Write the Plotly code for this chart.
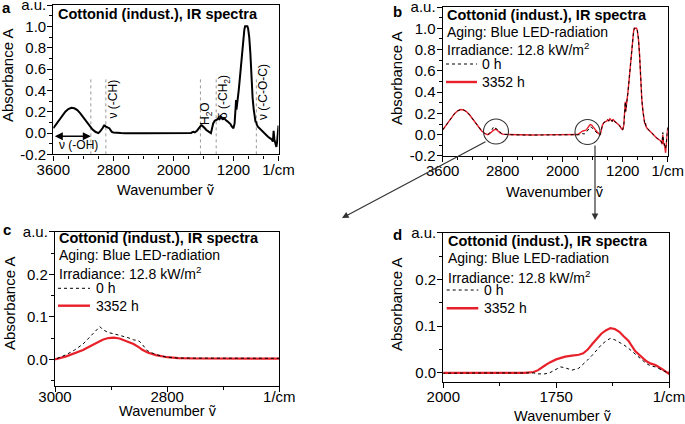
import plotly.graph_objects as go

W, H = 685, 424

# ---------------- data ----------------
wn_oh = [3600, 3560, 3520, 3480, 3440, 3400, 3360, 3320, 3280, 3240, 3200, 3160, 3120, 3080, 3040]
a0_oh = [0.045, 0.085, 0.12, 0.16, 0.2, 0.225, 0.236, 0.232, 0.215, 0.185, 0.15, 0.11, 0.07, 0.035, 0.012]
a1_oh = [0.045, 0.085, 0.12, 0.16, 0.2, 0.225, 0.236, 0.232, 0.215, 0.185, 0.15, 0.11, 0.07, 0.035, 0.012]

wn_ch = [3000, 2980, 2965, 2950, 2940, 2930, 2920, 2915, 2905, 2895, 2885, 2870, 2860, 2850, 2845,
         2835, 2820, 2800, 2780, 2750, 2700, 2650, 2600]
a0_ch = [0.0, 0.011, 0.022, 0.036, 0.05, 0.063, 0.077, 0.07, 0.063, 0.06, 0.057, 0.051, 0.046, 0.043, 0.036,
         0.02, 0.011, 0.005, 0.003, 0.002, 0.0, -0.001, -0.003]
a1_ch = [0.0, 0.007, 0.014, 0.022, 0.029, 0.036, 0.043, 0.046, 0.05, 0.051, 0.049, 0.042, 0.036, 0.028, 0.023,
         0.016, 0.01, 0.005, 0.003, 0.002, 0.0, -0.001, -0.003]

wn_flat = [2500, 2400, 2300, 2200, 2100]
a0_flat = [-0.003, -0.003, -0.002, -0.002, -0.001]
a1_flat = [-0.003, -0.003, -0.002, -0.002, -0.001]

wn_h2o = [2000, 1900, 1820, 1800, 1790, 1775, 1765, 1750, 1740, 1730, 1715, 1700, 1690, 1680, 1670,
          1660, 1650, 1640, 1630, 1620, 1610, 1600, 1590, 1575, 1565, 1550, 1540, 1530, 1515, 1500]
a0_h2o = [0.0, 0.0, 0.0, 0.0, -0.002, -0.002, 0.0, 0.008, 0.013, 0.011, 0.006, 0.01, 0.018, 0.028, 0.038,
          0.05, 0.06, 0.068, 0.074, 0.071, 0.066, 0.06, 0.053, 0.04, 0.031, 0.02, 0.015, 0.013, 0.006, -0.001]
a1_h2o = [0.0, 0.0, 0.0, 0.002, 0.006, 0.016, 0.022, 0.029, 0.032, 0.035, 0.037, 0.039, 0.042, 0.05, 0.062,
          0.074, 0.084, 0.091, 0.096, 0.094, 0.088, 0.078, 0.069, 0.047, 0.038, 0.025, 0.02, 0.017, 0.008, -0.002]

wn_fp = [1490, 1470, 1450, 1430, 1410, 1400, 1385, 1370, 1355, 1340, 1330, 1315, 1300, 1280, 1260,
         1240, 1225, 1210, 1200, 1185, 1175, 1165, 1160, 1150, 1130, 1110, 1090, 1070, 1055, 1045,
         1030, 1015, 1005, 990, 975, 960, 945, 930, 915, 905, 897, 890, 875, 855, 830,
         800, 770, 740, 710, 690, 675, 665, 655, 640, 628, 618, 610, 600]
a0_fp = [0.03, 0.09, 0.115, 0.12, 0.13, 0.14, 0.13, 0.15, 0.135, 0.125, 0.145, 0.13, 0.12, 0.11, 0.1,
         0.084, 0.065, 0.05, 0.045, 0.09, 0.17, 0.31, 0.22, 0.27, 0.40, 0.55, 0.72, 0.87, 0.97, 1.0,
         1.0, 1.0, 0.98, 0.9, 0.75, 0.46, 0.33, 0.22, 0.14, 0.1, 0.11, 0.08, 0.06, 0.045, 0.03,
         0.0, -0.02, -0.035, -0.05, -0.06, -0.08, 0.02, -0.06, -0.09, -0.13, -0.08, 0.0, 0.07]
a1_fp = [0.03, 0.09, 0.115, 0.12, 0.13, 0.14, 0.13, 0.15, 0.135, 0.125, 0.145, 0.13, 0.12, 0.11, 0.1,
         0.084, 0.065, 0.05, 0.045, 0.09, 0.17, 0.31, 0.22, 0.27, 0.40, 0.55, 0.72, 0.87, 0.97, 1.0,
         1.0, 1.0, 0.98, 0.9, 0.75, 0.46, 0.33, 0.22, 0.14, 0.1, 0.11, 0.08, 0.06, 0.045, 0.03,
         0.0, -0.02, -0.035, -0.05, -0.06, -0.09, 0.0, -0.08, -0.11, -0.17, -0.1, -0.02, 0.06]

wavenumber = wn_oh + wn_ch + wn_flat + wn_h2o + wn_fp
absorb_0h = a0_oh + a0_ch + a0_flat + a0_h2o + a0_fp
absorb_3352h = a1_oh + a1_ch + a1_flat + a1_h2o + a1_fp

band_lines = [3100, 2900, 1640, 1430, 895]
band_top = 0.52

RED = "#e8202a"
FONT = "Liberation Sans, Arial, sans-serif"


def px(x):
    return x / W


def py(y):
    return 1 - y / H


fig = go.Figure()

# panel a
fig.add_trace(go.Scatter(x=wavenumber, y=absorb_0h, mode="lines", xaxis="x", yaxis="y",
                         line=dict(color="black", width=2), showlegend=False))
# panel b
fig.add_trace(go.Scatter(x=wavenumber, y=absorb_3352h, mode="lines", xaxis="x2", yaxis="y2",
                         line=dict(color=RED, width=1.4), showlegend=False))
fig.add_trace(go.Scatter(x=wavenumber, y=absorb_0h, mode="lines", xaxis="x2", yaxis="y2",
                         line=dict(color="black", width=1, dash="dot"), showlegend=False))
# panel c
fig.add_trace(go.Scatter(x=wavenumber, y=absorb_3352h, mode="lines", xaxis="x3", yaxis="y3",
                         line=dict(color=RED, width=2.2), showlegend=False))
fig.add_trace(go.Scatter(x=wavenumber, y=absorb_0h, mode="lines", xaxis="x3", yaxis="y3",
                         line=dict(color="black", width=1, dash="dot"), showlegend=False))
# panel d
fig.add_trace(go.Scatter(x=wavenumber, y=absorb_3352h, mode="lines", xaxis="x4", yaxis="y4",
                         line=dict(color=RED, width=2.2), showlegend=False))
fig.add_trace(go.Scatter(x=wavenumber, y=absorb_0h, mode="lines", xaxis="x4", yaxis="y4",
                         line=dict(color="black", width=1, dash="dot"), showlegend=False))

common = dict(showline=True, linecolor="black", linewidth=1.2, mirror=True, ticks="outside",
              ticklen=5, tickwidth=1.2, tickcolor="black", showgrid=False, zeroline=False,
              automargin=False, ticklabeloverflow="allow",
              tickfont=dict(size=15, color="black", family=FONT))


def minor(t0, dt):
    return dict(tickmode="linear", tick0=t0, dtick=dt, ticks="outside", ticklen=3,
                tickwidth=1, tickcolor="black", showgrid=False)


full_x = dict(range=[3600.01, 599.99], tickmode="array", tickvals=[3600, 2800, 2000, 1200, 600],
              ticktext=["3600", "2800", "2000", "1200", "1/cm"], minor=minor(600, 200),
              ticklabelstandoff=-4, **common)
full_y = dict(range=[-0.2001, 1.2001], tickmode="array", tickvals=[-0.2, 0, 0.2, 0.4, 0.6, 0.8, 1.0, 1.2],
              ticktext=["-0.2", "0.0", "0.2", "0.4", "0.6", "0.8", "1.0", "a.u."], minor=minor(0, 0.1),
              ticklabelstandoff=-2, **common)

fig.update_layout(
    width=W, height=H, margin=dict(l=0, r=0, t=0, b=0, pad=0), autosize=False,
    paper_bgcolor="white", plot_bgcolor="white",
    font=dict(family=FONT, color="black"),
    xaxis=dict(domain=[px(53.3), px(278.5)], anchor="y", **full_x),
    yaxis=dict(domain=[py(154.4), py(5)], anchor="x", **full_y),
    xaxis2=dict(domain=[px(442.7), px(667.7)], anchor="y2", **full_x),
    yaxis2=dict(domain=[py(156), py(7)], anchor="x2", **full_y),
    xaxis3=dict(domain=[px(55), px(279.3)], anchor="y3", range=[3000.01, 2599.99], tickmode="array",
                tickvals=[3000, 2800, 2600], ticktext=["3000", "2800", "1/cm"], minor=minor(2600, 100),
                ticklabelstandoff=-8, **common),
    yaxis3=dict(domain=[py(385.7), py(231.7)], anchor="x3", range=[-0.062, 0.3001], tickmode="array",
                tickvals=[0, 0.1, 0.2, 0.3], ticktext=["0.0", "0.1", "0.2", "a.u."], minor=minor(0, 0.05),
                ticklabelstandoff=-2, **common),
    xaxis4=dict(domain=[px(443.3), px(669)], anchor="y4", range=[2000.01, 1499.99], tickmode="array",
                tickvals=[2000, 1750, 1500], ticktext=["2000", "1750", "1/cm"], minor=minor(1500, 125),
                ticklabelstandoff=-4, **common),
    yaxis4=dict(domain=[py(382.3), py(232.7)], anchor="x4", range=[-0.02, 0.3001], tickmode="array",
                tickvals=[0, 0.1, 0.2, 0.3], ticktext=["0.0", "0.1", "0.2", "a.u."], minor=minor(0, 0.05),
                ticklabelstandoff=-2, **common),
)

shapes = []
# dotted band lines in panel a
for b in band_lines:
    shapes.append(dict(type="line", xref="x", yref="y", x0=b, x1=b, y0=-0.2, y1=band_top,
                       line=dict(color="#9a9a9a", width=1, dash="dot"), layer="below"))
# circles in panel b
for cx, cy in [(496, 131.5), (587.5, 132)]:
    shapes.append(dict(type="circle", xref="paper", yref="paper", x0=px(cx - 12.5), x1=px(cx + 12.5),
                       y0=py(cy + 12.5), y1=py(cy - 12.5), line=dict(color="#333333", width=1.1)))
# legend samples
for x0, x1, y0, y1 in [(446, 477, 64, 82), (58, 90, 288.3, 305.7), (446.7, 478.3, 290, 308.3)]:
    shapes.append(dict(type="line", xref="paper", yref="paper", x0=px(x0), x1=px(x1), y0=py(y0), y1=py(y0),
                       line=dict(color="black", width=1, dash="dot")))
    shapes.append(dict(type="line", xref="paper", yref="paper", x0=px(x0), x1=px(x1), y0=py(y1), y1=py(y1),
                       line=dict(color=RED, width=2.4)))
fig.update_layout(shapes=shapes)

ann = []


def txt(x, y, s, size=14, bold=False, xanchor="left", angle=0):
    ann.append(dict(x=px(x), y=py(y), xref="paper", yref="paper", text=("<b>%s</b>" % s) if bold else s,
                    showarrow=False, xanchor=xanchor, yanchor="middle", textangle=angle,
                    font=dict(size=size, color="black", family=FONT)))


# panel letters
txt(6, 8, "a", 15, True, "center")
txt(397, 12, "b", 15, True, "center")
txt(7, 229, "c", 15, True, "center")
txt(397, 234, "d", 15, True, "center")

# axis titles
for x, y in [(8, 76), (396, 79), (9, 304), (396, 305)]:
    txt(x, y, "Absorbance A", 15, False, "center", -90)
for x, y in [(166, 190), (555, 192), (168, 411), (563, 416)]:
    txt(x, y, "Wavenumber ṽ", 14.5, False, "center")

# titles and info text
txt(56, 14, "Cottonid (indust.), IR spectra", 14.5, True)
for x, y0 in [(445, 15), (57, 238.3), (446, 240.7)]:
    txt(x, y0, "Cottonid (indust.), IR spectra", 14.5, True)
for x, ya, yi in [(445, 32, 49), (57, 255, 272.7), (446, 258.3, 276.7)]:
    txt(x, ya, "Aging: Blue LED-radiation", 14)
    txt(x, yi, "Irradiance: 12.8 kW/m<sup>2</sup>", 14)
for x, y0, y1 in [(480, 64, 82), (94, 288.3, 305.7), (482, 290, 308.3)]:
    txt(x, y0, "0 h", 14)
    txt(x, y1, "3352 h", 14)

# band labels panel a
txt(57, 145, "ν (-OH)", 12)
txt(112.5, 99, "ν (-CH)", 12, False, "center", -90)
txt(206, 114, "H<sub>2</sub>O", 12, False, "center", -90)
txt(224, 97, "δ (-CH<sub>2</sub>)", 12, False, "center", -90)
txt(263, 92, "ν (-C-O-C)", 12, False, "center", -90)

# double arrow for OH band
ann.append(dict(x=band_lines[0], y=-0.03, ax=3600, ay=-0.03, xref="x", yref="y", axref="x", ayref="y",
                showarrow=True, arrowhead=2, startarrowhead=2, arrowside="end+start", arrowsize=1,
                arrowwidth=1.6, arrowcolor="black", text=""))

# arrows from panel b to c and d
ann.append(dict(x=px(342), y=py(218), xref="paper", yref="paper", ax=145, ay=-77, axref="pixel", ayref="pixel",
                showarrow=True, arrowhead=2, arrowsize=1.1, arrowwidth=1.2, arrowcolor="#333333", text=""))
ann.append(dict(x=px(595), y=py(220), xref="paper", yref="paper", ax=0, ay=-76, axref="pixel", ayref="pixel",
                showarrow=True, arrowhead=2, arrowsize=1.1, arrowwidth=1.2, arrowcolor="#333333", text=""))

fig.update_layout(annotations=ann)

fig.write_html("out.html", config={"displayModeBar": False},
               post_script="document.body.style.margin='0';document.body.style.overflow='hidden';")
